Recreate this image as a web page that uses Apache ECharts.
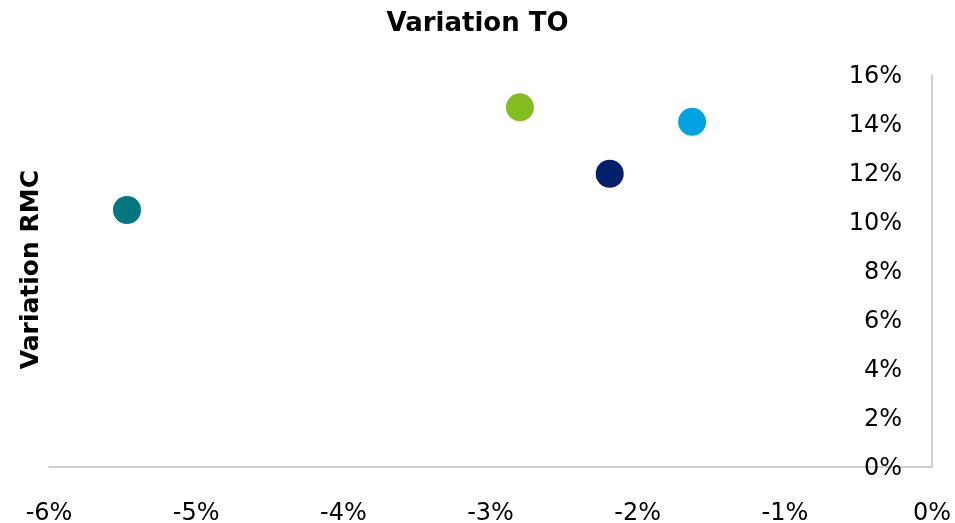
<!DOCTYPE html>
<html>
<head>
<meta charset="utf-8">
<script src="https://cdn.jsdelivr.net/npm/echarts@6/dist/echarts.min.js"></script>
<style>html,body{margin:0;padding:0;background:#fff}#c{width:955px;height:523px}</style>
</head>
<body>
<div id="c"></div>
<script>
const pointNames = ['P1', 'P2', 'P3', 'P4'];
const variationTO = [-5.47, -2.80, -2.19, -1.63];
const variationRMC = [10.49, 14.68, 11.97, 14.09];
const pointColors = ['#00777F', '#85BC22', '#00216A', '#00A3E0'];
const xTicks = {min: -6, max: 0, interval: 1};
const yTicks = {min: 0, max: 16, interval: 2};

const chart = echarts.init(document.getElementById('c'), null, {renderer: 'canvas'});
const font = 'DejaVu Sans';
chart.setOption({
  animation: false,
  backgroundColor: '#ffffff',
  title: {
    text: 'Variation TO',
    left: 'center',
    top: 6,
    textStyle: {fontFamily: font, fontWeight: 'bold', fontSize: 26, color: '#000'}
  },
  graphic: [{
    type: 'text',
    left: 19,
    top: 170,
    rotation: Math.PI / 2,
    style: {text: 'Variation RMC', fontFamily: font, fontWeight: 'bold', fontSize: 25, fill: '#000'}
  }],
  grid: {left: 49, right: 23, top: 75, bottom: 56, containLabel: false, outerBoundsMode: 'none'},
  xAxis: {
    type: 'value',
    min: xTicks.min, max: xTicks.max, interval: xTicks.interval,
    splitLine: {show: false},
    axisTick: {show: false},
    axisLine: {show: true, onZero: false, lineStyle: {color: '#bfbfbf', width: 1.5}},
    axisLabel: {formatter: v => v + '%', fontFamily: font, fontSize: 24, color: '#000', margin: 35}
  },
  yAxis: {
    type: 'value',
    position: 'right',
    min: yTicks.min, max: yTicks.max, interval: yTicks.interval,
    splitLine: {show: false},
    axisTick: {show: false},
    axisLine: {show: true, onZero: false, lineStyle: {color: '#bfbfbf', width: 1.5}},
    axisLabel: {inside: true, formatter: v => v + '%', fontFamily: font, fontSize: 24, color: '#000', margin: 30, verticalAlign: 'top', lineHeight: 4}
  },
  series: [{
    type: 'scatter',
    symbolSize: 28,
    itemStyle: {opacity: 1},
    data: variationTO.map((x, i) => ({
      name: pointNames[i],
      value: [x, variationRMC[i]],
      itemStyle: {color: pointColors[i], opacity: 1}
    }))
  }]
});
</script>
</body>
</html>
